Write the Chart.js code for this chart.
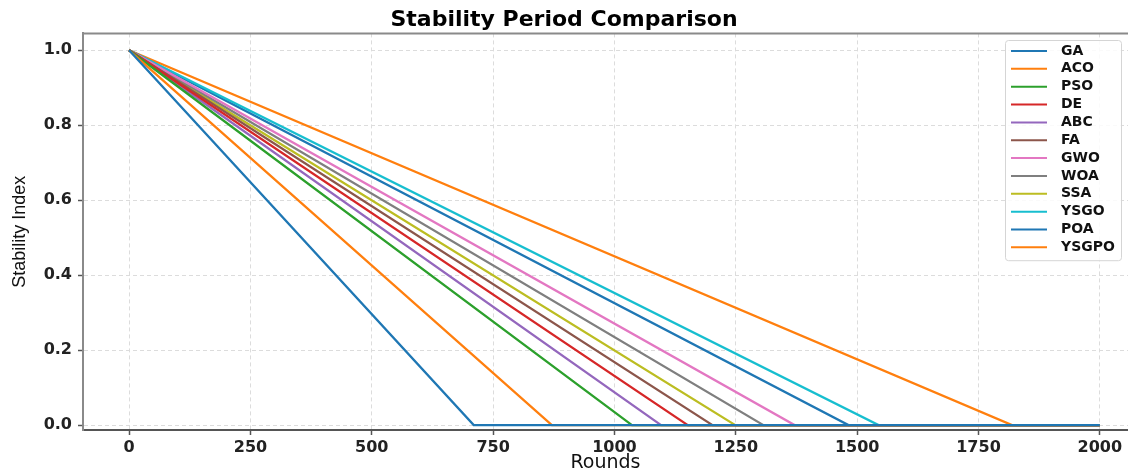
<!DOCTYPE html>
<html>
<head>
<meta charset="utf-8">
<script src="https://cdn.jsdelivr.net/npm/chart.js@4/dist/chart.umd.min.js"></script>
<style>
  html, body { margin: 0; padding: 0; background: #ffffff; }
  #wrap { width: 1128px; height: 474px; position: relative; }
</style>
</head>
<body>
<div id="wrap"><canvas id="c"></canvas></div>
<script>
// Algorithms compared, in plotting order
const methods = ['GA', 'ACO', 'PSO', 'DE', 'ABC', 'FA', 'GWO', 'WOA', 'SSA', 'YSGO', 'POA', 'YSGPO'];
// Round at which the stability index reaches zero for each algorithm
const zeroRound = [710, 871, 1036, 1151, 1096, 1202, 1371, 1307, 1249, 1544, 1482, 1819];
// Stability index at round 0 and at the end of the run
const startIndex = [1, 1, 1, 1, 1, 1, 1, 1, 1, 1, 1, 1];
const endIndex = [0, 0, 0, 0, 0, 0, 0, 0, 0, 0, 0, 0];
const totalRounds = 2000;
// Axis ticks
const xTicks = [0, 250, 500, 750, 1000, 1250, 1500, 1750, 2000];
const yTicks = [0.0, 0.2, 0.4, 0.6, 0.8, 1.0];

const palette = ['#1f77b4', '#ff7f0e', '#2ca02c', '#d62728', '#9467bd', '#8c564b',
                 '#e377c2', '#7f7f7f', '#bcbd22', '#17becf', '#1f77b4', '#ff7f0e'];

const datasets = methods.map((name, i) => ({
  label: name,
  data: [
    { x: 0, y: startIndex[i] },
    { x: zeroRound[i], y: endIndex[i] },
    { x: totalRounds, y: endIndex[i] }
  ],
  borderColor: palette[i],
  backgroundColor: palette[i],
  borderWidth: 2.3,
  pointRadius: 0,
  tension: 0,
  fill: false
}));

const tickFont = { family: 'DejaVu Sans', size: 16, weight: 'bold' };

// Top frame line plus the boxed legend in the upper right corner
const framePlugin = {
  id: 'frame',
  afterDraw(chart) {
    const { ctx, chartArea } = chart;
    ctx.save();
    ctx.strokeStyle = '#8a8a8a';
    ctx.lineWidth = 2;
    ctx.beginPath();
    ctx.moveTo(chartArea.left, chartArea.top);
    ctx.lineTo(chartArea.right, chartArea.top);
    ctx.stroke();

    const ds = chart.data.datasets;
    const boxL = 1005, boxT = 40, boxW = 116, rowH = 17.85;
    const boxH = ds.length * rowH + 6;
    ctx.fillStyle = 'rgba(255,255,255,0.85)';
    ctx.strokeStyle = '#d5d5d5';
    ctx.lineWidth = 1;
    ctx.beginPath();
    ctx.roundRect(boxL + 0.5, boxT + 0.5, boxW, boxH, 3);
    ctx.fill();
    ctx.stroke();

    ctx.font = '600 14px "DejaVu Sans"';
    ctx.textBaseline = 'middle';
    ds.forEach((d, i) => {
      const y = boxT + 11 + i * rowH;
      ctx.strokeStyle = d.borderColor;
      ctx.lineWidth = 2;
      ctx.beginPath();
      ctx.moveTo(1011, y);
      ctx.lineTo(1047, y);
      ctx.stroke();
      ctx.fillStyle = '#111';
      ctx.fillText(d.label, 1061, y);
    });
    ctx.restore();
  }
};

new Chart(document.getElementById('c'), {
  type: 'line',
  data: { datasets },
  options: {
    responsive: true,
    maintainAspectRatio: false,
    animation: false,
    layout: { padding: { left: 0, right: 0, top: 0, bottom: 0 } },
    plugins: {
      legend: { display: false },
      tooltip: { enabled: false },
      title: {
        display: true,
        text: 'Stability Period Comparison',
        color: '#000',
        font: { family: 'DejaVu Sans', size: 22, weight: 'bold' },
        padding: { top: 7, bottom: 0 }
      }
    },
    scales: {
      x: {
        type: 'linear',
        min: -95,
        max: 2058,
        afterBuildTicks(scale) { scale.ticks = xTicks.map(v => ({ value: v })); },
        afterFit(scale) { scale.height = 44; },
        ticks: { color: '#222', font: tickFont, padding: 3, maxRotation: 0,
                 callback: v => String(v) },
        grid: { color: '#dcdcdc', lineWidth: 1, drawTicks: true, tickLength: 5,
                tickColor: '#555', tickWidth: 1.5, tickBorderDash: [] },
        border: { display: true, color: '#555', width: 2, dash: [4, 3] },
        title: { display: true, text: 'Rounds', color: '#111',
                 font: { family: 'DejaVu Sans', size: 19 }, padding: { top: 0, bottom: 0 } }
      },
      y: {
        type: 'linear',
        min: -0.013,
        max: 1.045,
        afterBuildTicks(scale) { scale.ticks = yTicks.map(v => ({ value: v })); },
        afterFit(scale) { scale.width = 83; },
        ticks: { color: '#222', font: tickFont, padding: 6,
                 callback: v => Number(v).toFixed(1) },
        grid: { color: '#dcdcdc', lineWidth: 1, drawTicks: true, tickLength: 5,
                tickColor: '#555', tickWidth: 1.5, tickBorderDash: [] },
        border: { display: true, color: '#8a8a8a', width: 2, dash: [4, 3] },
        title: { display: true, text: 'Stability Index', color: '#111',
                 font: { family: 'Liberation Sans', size: 18 }, padding: { top: 9, bottom: 0 } }
      }
    }
  },
  plugins: [framePlugin]
});
</script>
</body>
</html>
